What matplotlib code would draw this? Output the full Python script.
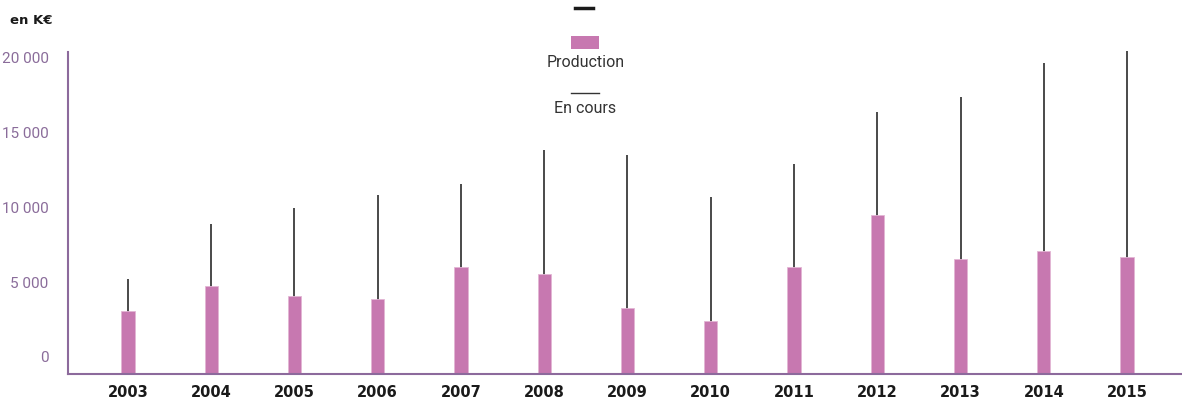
import numpy as np
import matplotlib
matplotlib.use("Agg")
import matplotlib.pyplot as plt
from matplotlib.patches import Rectangle
from matplotlib.lines import Line2D
from matplotlib.transforms import ScaledTranslation

# ------------------------------------------------------------
# Data (en K€)
# ------------------------------------------------------------
years = ["2003", "2004", "2005", "2006", "2007", "2008", "2009",
         "2010", "2011", "2012", "2013", "2014", "2015"]
production = [4220, 5870, 5200, 5000, 7110, 6690, 4380,
              3550, 7130, 10600, 7670, 8220, 7780]
en_cours = [6310, 10000, 11070, 11950, 12670, 14930, 14600,
            11780, 14000, 17490, 18450, 20710, 21530]
yticks = [0, 5000, 10000, 15000, 20000]
ytick_labels = ["0", "5 000", "10 000", "15 000", "20 000"]

PINK = "#c778b0"
PURPLE = "#8c6a9c"
LABEL_PURPLE = "#8a6c9a"
LINE = "#2b2b2b"

LIGHT_FONT = ["Roboto", "DejaVu Sans"]
BOLD_FONT = ["DejaVu Sans"]

W, H = 1182, 401
fig = plt.figure(figsize=(W / 100, H / 100), dpi=100)
ax = fig.add_axes([68 / W, 1 - 374 / H, 1 - 68 / W, (374 - 52) / H])

x = np.arange(len(years))
ax.vlines(x, 0, en_cours, color=LINE, lw=1.2, zorder=1, clip_on=False)
ax.bar(x, production, width=0.16, color=PINK, edgecolor="#e3b6d4",
       linewidth=0.6, zorder=2)

ax.set_xlim(-0.72, 12.66)
ax.set_ylim(0, 21470)

for side in ("top", "right"):
    ax.spines[side].set_visible(False)
for side in ("left", "bottom"):
    ax.spines[side].set_color(PURPLE)
    ax.spines[side].set_linewidth(1.5)

ax.set_xticks(x)
ax.set_xticklabels(years, fontsize=10.5, fontweight="bold", color="#1a1a1a",
                   family=BOLD_FONT)
ax.tick_params(axis="x", length=0, pad=8)

ax.set_yticks(yticks)
ax.set_yticklabels(ytick_labels, fontsize=11, color=LABEL_PURPLE,
                   family=LIGHT_FONT)
ax.tick_params(axis="y", length=0, pad=14)
shift = ScaledTranslation(0, 17 / 100, fig.dpi_scale_trans)
for lab in ax.get_yticklabels():
    lab.set_transform(lab.get_transform() + shift)

fig.text(10 / W, 1 - 20 / H, "en K€", fontsize=9.5, fontweight="bold",
         color="#1a1a1a", va="center", ha="left", family=BOLD_FONT)

# legend, drawn by hand (stacked, centred)
fig.add_artist(Line2D([575 / W, 593 / W], [1 - 7.5 / H, 1 - 7.5 / H],
                      color="#1a1a1a", lw=2.5))
fig.add_artist(Rectangle((571 / W, 1 - 49 / H), 28 / W, 13 / H,
                         facecolor=PINK, edgecolor="none"))
fig.text(586 / W, 1 - 62.5 / H, "Production", fontsize=11.5,
         color="#333333", ha="center", va="center", family=LIGHT_FONT)
fig.add_artist(Line2D([571 / W, 599 / W], [1 - 93 / H, 1 - 93 / H],
                      color="#333333", lw=1.0))
fig.text(585 / W, 1 - 108.5 / H, "En cours", fontsize=11.5,
         color="#333333", ha="center", va="center", family=LIGHT_FONT)

fig.savefig("out.png", dpi=100)
